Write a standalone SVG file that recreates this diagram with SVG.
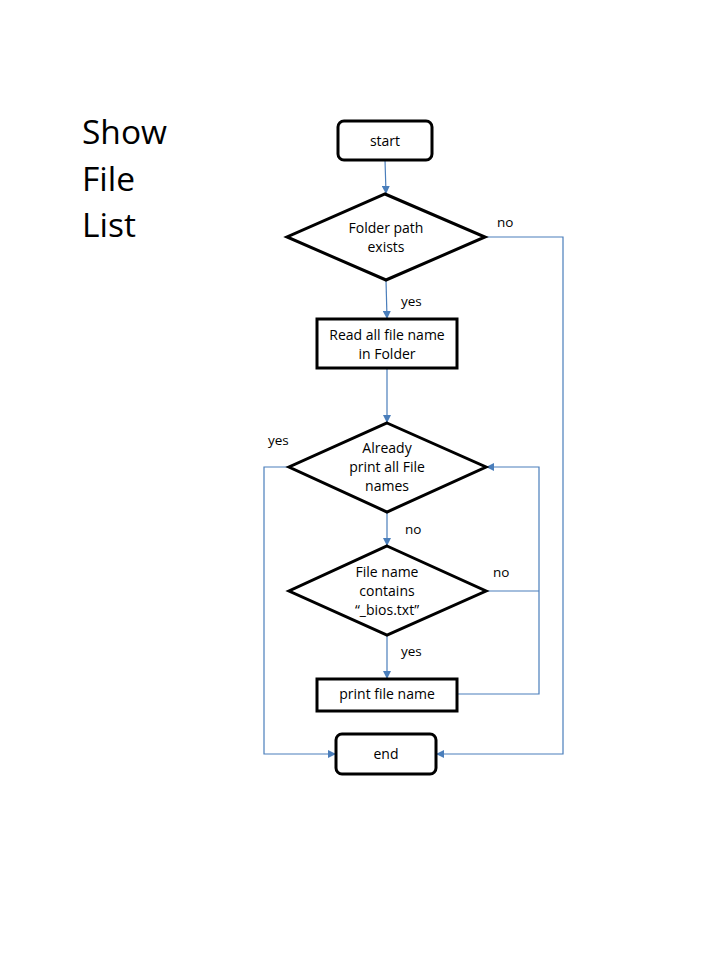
<svg xmlns="http://www.w3.org/2000/svg" width="720" height="960" viewBox="0 0 720 960">
<style>
.node{fill:#fff;stroke:#000;stroke-width:3}
.t{font-family:"Open Sans","Liberation Sans",sans-serif;font-size:14px;fill:#000;text-anchor:middle}
.lbl{font-family:"Open Sans","Liberation Sans",sans-serif;font-size:13.5px;fill:#000}
.c{fill:none;stroke:#4a7ebb;stroke-width:1.2}
.title{font-family:"Open Sans","Liberation Sans",sans-serif;font-size:33.5px;fill:#000}
</style>
<defs>
<marker id="a" markerWidth="8" markerHeight="8" refX="7" refY="4" orient="auto" markerUnits="userSpaceOnUse">
<path d="M0,0 L8,4 L0,8 Z" fill="#4a7ebb"/>
</marker>
</defs>
<rect width="720" height="960" fill="#fff"/>
<g id="title">
<text class="title" x="82" y="144">Show</text>
<text class="title" x="82" y="191">File</text>
<text class="title" x="82" y="237">List</text>
</g>
<g id="connectors">
<path class="c" d="M385,160 L386,193" marker-end="url(#a)"/>
<path class="c" d="M386,280 L387,318" marker-end="url(#a)"/>
<path class="c" d="M387,368 L387,422" marker-end="url(#a)"/>
<path class="c" d="M387,512 L387,545" marker-end="url(#a)"/>
<path class="c" d="M387,635 L387,678" marker-end="url(#a)"/>
<path class="c" d="M485,237 L563,237 L563,754 L437,754" marker-end="url(#a)"/>
<path class="c" d="M289,467 L264,467 L264,754 L335,754" marker-end="url(#a)"/>
<path class="c" d="M486,591 L539,591"/>
<path class="c" d="M457,694 L539,694 L539,467 L487,467" marker-end="url(#a)"/>
<text class="lbl" x="497" y="227">no</text>
<text class="lbl" x="401" y="306">yes</text>
<text class="lbl" x="268" y="445">yes</text>
<text class="lbl" x="405" y="534">no</text>
<text class="lbl" x="493" y="577">no</text>
<text class="lbl" x="401" y="656">yes</text>
</g>
<g id="start">
<rect class="node" x="338" y="121" width="94" height="39" rx="6"/>
<text class="t" x="385" y="146">start</text>
</g>
<g id="folder_exists">
<polygon class="node" points="385,194 485,237 386,280 287,237"/>
<text class="t" x="386" y="233">Folder path</text>
<text class="t" x="386" y="252">exists</text>
</g>
<g id="read_names">
<rect class="node" x="317" y="319" width="140" height="49"/>
<text class="t" x="387" y="340">Read all file name</text>
<text class="t" x="387" y="359">in Folder</text>
</g>
<g id="already_printed">
<polygon class="node" points="387,423 486,467 387,512 289,467"/>
<text class="t" x="387" y="453">Already</text>
<text class="t" x="387" y="472">print  all File</text>
<text class="t" x="387" y="491">names</text>
</g>
<g id="contains_bios">
<polygon class="node" points="387,546 486,591 387,635 289,591"/>
<text class="t" x="387" y="577">File name</text>
<text class="t" x="387" y="596">contains</text>
<text class="t" x="387" y="615">“_bios.txt”</text>
</g>
<g id="print_name">
<rect class="node" x="317" y="679" width="140" height="32"/>
<text class="t" x="387" y="699">print  file name</text>
</g>
<g id="end">
<rect class="node" x="336" y="734" width="100" height="40" rx="6"/>
<text class="t" x="386" y="759">end</text>
</g>
</svg>
